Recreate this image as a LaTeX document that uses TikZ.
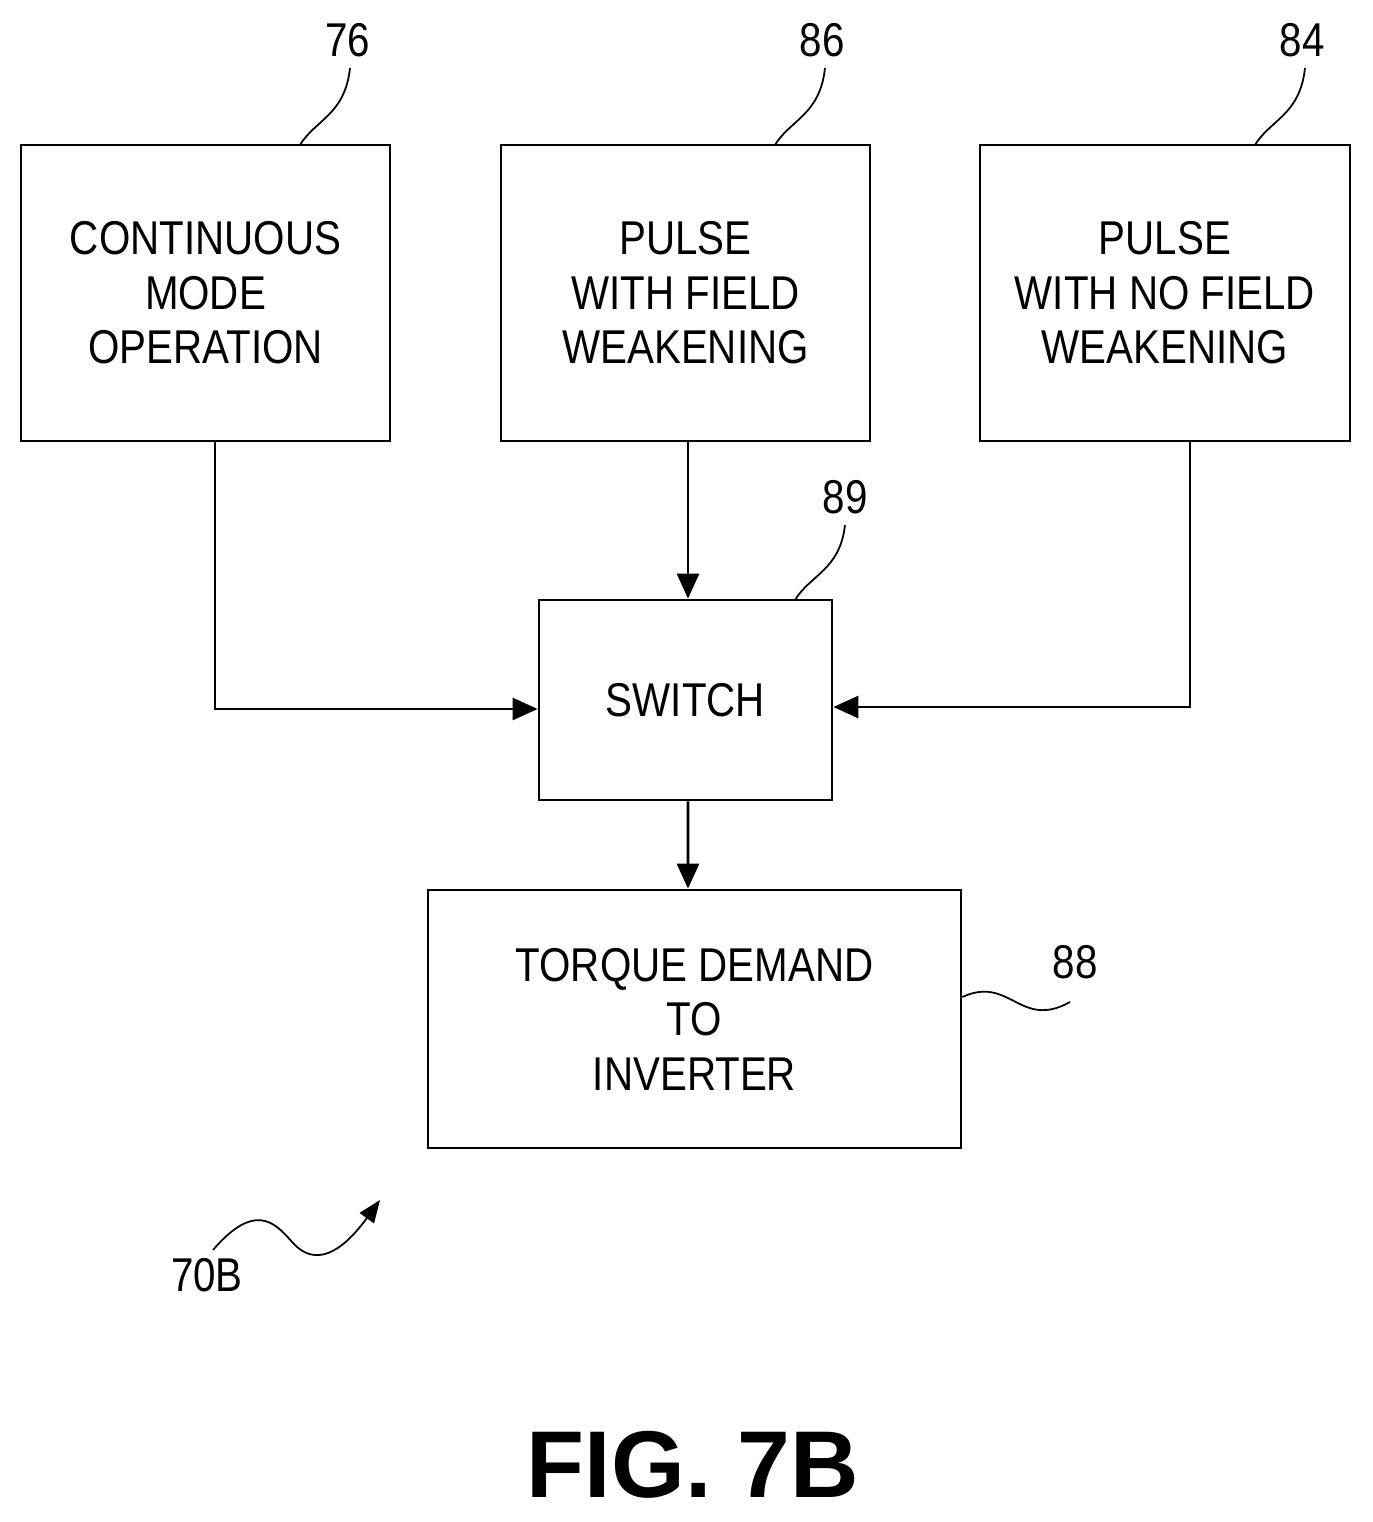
\documentclass[tikz,border=0pt]{standalone}
\usepackage{fontspec}
\setmainfont{Liberation Sans}
\newfontfamily\boxfont[FakeStretch=0.85]{Liberation Sans}
\usetikzlibrary{arrows.meta}
\begin{document}
\begin{tikzpicture}[x=0.02cm,y=-0.02cm,
 box/.style={draw,line width=1.6pt,align=center,font=\boxfont\fontsize{27}{31}\selectfont,inner sep=0pt},
 arr/.style={line width=1.6pt,-{Triangle[length=0.5cm,width=0.44cm]}},
 lead/.style={line width=1pt},
 num/.style={font=\boxfont\fontsize{27}{30}\selectfont}]
\useasboundingbox (0,0) rectangle (1373,1522);
\node[box,minimum width=7.38cm,minimum height=5.92cm] (a) at (205.5,293) {CONTINUOUS\\MODE\\OPERATION};
\node[box,minimum width=7.38cm,minimum height=5.92cm] (b) at (685.5,293) {PULSE\\WITH FIELD\\WEAKENING};
\node[box,minimum width=7.4cm,minimum height=5.92cm] (c) at (1165,293) {PULSE\\WITH NO FIELD\\WEAKENING};
\node[box,minimum width=5.86cm,minimum height=4cm] (sw) at (685.5,700) {SWITCH};
\node[box,minimum width=10.66cm,minimum height=5.16cm] (t) at (694.5,1019) {TORQUE DEMAND\\TO\\INVERTER};
\draw[arr] ([xshift=0.19cm]a.south) |- ([yshift=-0.18cm]sw.west);
\draw[arr] ([xshift=0.05cm]b.south) -- ([xshift=0.05cm]sw.north);
\draw[arr] ([xshift=0.5cm]c.south) |- ([yshift=-0.14cm]sw.east);
\draw[arr] ([xshift=0.05cm]sw.south) -- ([xshift=-0.13cm]t.north);
\node[num] (n76) at (348,40) {76};
\node[num] (n86) at (822,40) {86};
\node[num] (n84) at (1302,40) {84};
\node[num] (n89) at (845,497) {89};
\node[num] (n88) at (1075,962) {88};
\node[num] (n70) at (207,1275) {70B};
\coordinate (e76) at (300,145); \coordinate (e86) at (775,145);
\coordinate (e84) at (1255,145); \coordinate (e89) at (795,600);
\draw[lead] (e76) .. controls (315,120) and (345,115) .. (350,68);
\draw[lead] (e86) .. controls (790,120) and (820,115) .. (825,68);
\draw[lead] (e84) .. controls (1270,120) and (1300,115) .. (1305,68);
\draw[lead] (e89) .. controls (810,575) and (840,570) .. (845,525);
\draw[lead] (t.east |- 0,997) .. controls (1010,975) and (1020,1030) .. (1070,1002);
\draw[lead,-{Triangle[length=0.45cm,width=0.35cm]}] (213,1250) .. controls (260,1195) and (280,1230) .. (295,1245) .. controls (315,1265) and (340,1255) .. (380,1200);
\node[font=\bfseries\fontsize{54}{58}\selectfont] (fig) at (693,1465) {FIG. 7B};
\end{tikzpicture}
\end{document}
